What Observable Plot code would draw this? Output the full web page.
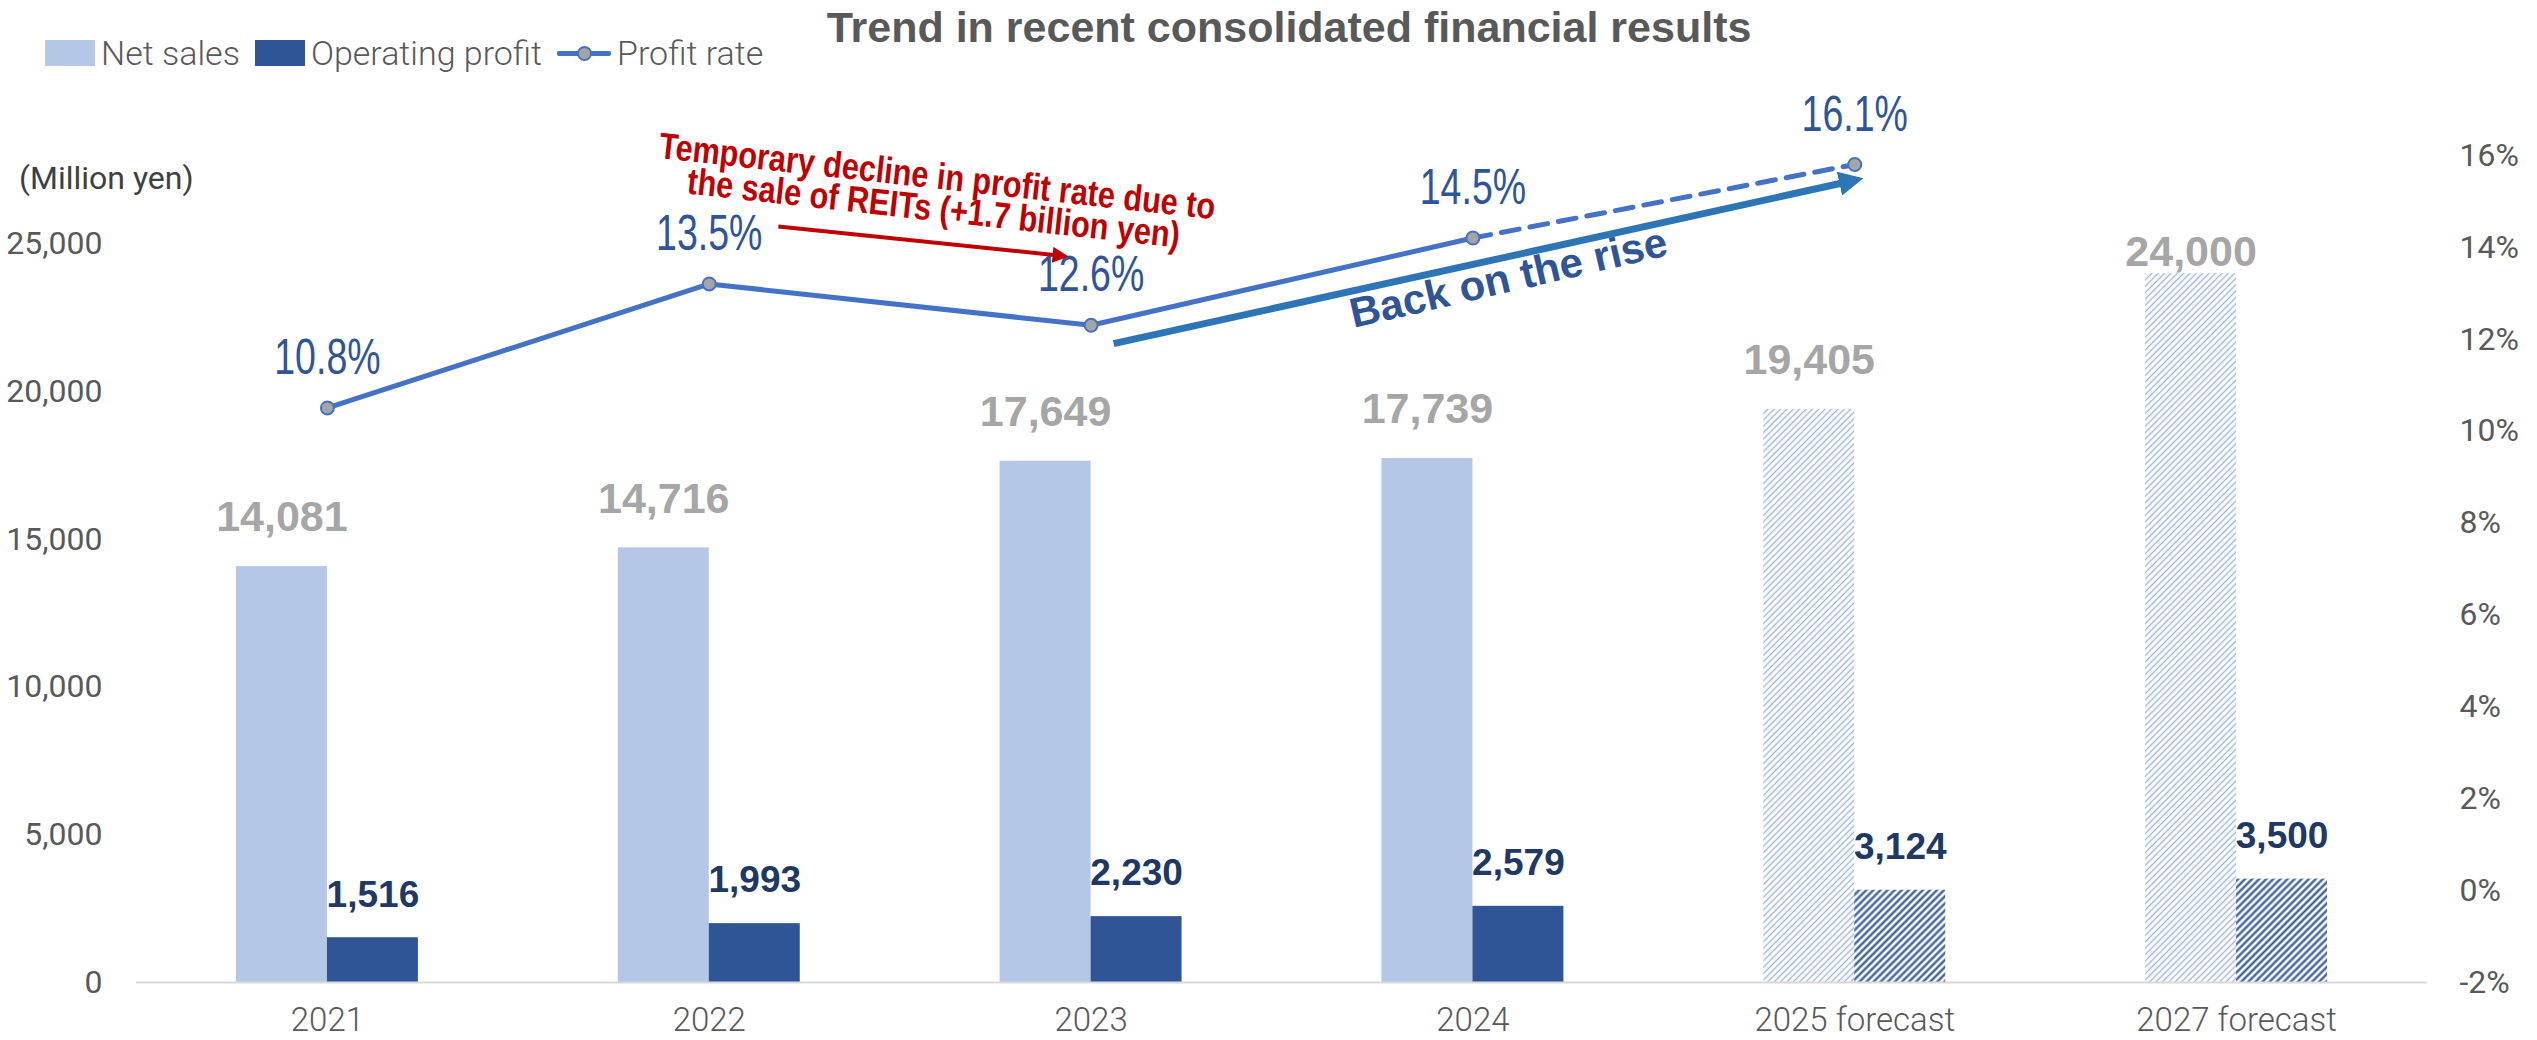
<!DOCTYPE html>
<html>
<head>
<meta charset="utf-8">
<script src="https://cdn.jsdelivr.net/npm/d3@7"></script>
<script src="https://cdn.jsdelivr.net/npm/@observablehq/plot@0.6"></script>
<style>
  body { margin: 0; background: #fff; }
  #wrap { position: relative; width: 2537px; height: 1040px; overflow: hidden; font-family: Roboto, sans-serif; }
  #title { position: absolute; top: 0; left: 1289px; transform: translateX(-50%); white-space: nowrap;
           font-family: "Liberation Sans", Arial, sans-serif; font-weight: bold; font-size: 43px; line-height: 54px; color: #595959; }
  #legend { position: absolute; top: 33px; left: 45px; height: 40px; display: flex; align-items: center; gap: 15px;
            font-family: Roboto, sans-serif; font-weight: 300; font-size: 34px; color: #595959; white-space: nowrap; }
  .item { display: flex; align-items: center; gap: 6px; }
  .sw { width: 50px; height: 26px; display: inline-block; }
  .ln { position: relative; width: 54px; height: 26px; display: inline-block; }
  .ln::before { content: ""; position: absolute; left: 0; right: 0; top: 11px; height: 5px; background: #4472c4; border-radius: 2px; }
  .ln::after { content: ""; position: absolute; left: 20px; top: 6px; width: 11px; height: 11px; border-radius: 50%;
               background: #a5a5a5; border: 2px solid #4472c4; }
  #unit { position: absolute; left: 19px; top: 158px; font-family: Roboto, sans-serif; font-size: 32px; line-height: 40px; color: #404040; white-space: nowrap; }
  #chart { position: absolute; left: 0; top: 80px; }
</style>
</head>
<body>
<div id="wrap">
  <div id="title">Trend in recent consolidated financial results</div>
  <div id="legend">
    <span class="item"><span class="sw" style="background:#b4c7e7"></span>Net sales</span>
    <span class="item"><span class="sw" style="background:#2f5597"></span>Operating profit</span>
    <span class="item"><span class="ln"></span>Profit rate</span>
  </div>
  <div id="chart"></div>
  <div id="unit">(Million yen)</div>
</div>
<script>
// ---- data ----
const years = ["2021", "2022", "2023", "2024", "2025 forecast", "2027 forecast"];
const netSales = [14081, 14716, 17649, 17739, 19405, 24000];
const operatingProfit = [1516, 1993, 2230, 2579, 3124, 3500];
const profitRate = [10.8, 13.5, 12.6, 14.5, 16.1, null];
const isForecast = [false, false, false, false, true, true];
const leftTicks = [0, 5000, 10000, 15000, 20000, 25000];
const rightTicks = [-2, 0, 2, 4, 6, 8, 10, 12, 14, 16];
const leftMax = 28000;
const rightMin = -1.706, rightMax = 16.296; // secondary axis extent as drawn in the reference

// annotations (data space: x = category index, p = percent on the secondary axis)
const redNote = [{x: 1.592, p: 15.45, text: "Temporary decline in profit rate due to\nthe sale of REITs (+1.7 billion yen)"}];
const redArrow = [{x1: 1.181, p1: 14.75, x2: 1.916, p2: 14.12}];
const blueNote = [{x: 3.093, p: 13.62, text: "Back on the rise"}];
const blueArrow = [{x1: 2.059, p1: 12.20, x2: 3.985, p2: 15.73}];

// ---- derived ----
const toY = p => (p - rightMin) / (rightMax - rightMin) * leftMax;
const fromY = v => v / leftMax * (rightMax - rightMin) + rightMin;
const rows = years.map((year, i) => ({i, year, net: netSales[i], op: operatingProfit[i], rate: profitRate[i], forecast: isForecast[i]}));
const actual = rows.filter(d => !d.forecast);
const forecast = rows.filter(d => d.forecast);
const lastActual = actual[actual.length - 1].i;
const rateRows = rows.filter(d => d.rate != null);
const solidRate = rateRows.filter(d => d.i <= lastActual);
const dashedRate = rateRows.filter(d => d.i >= lastActual);
const bw = 0.2383; // bar width in category units

const netColor = "#b4c7e7", opColor = "#2f5597", lineColor = "#4472c4";
const boldFont = "Liberation Sans, Arial, sans-serif";

const chart = Plot.plot({
  width: 2537,
  height: 960,
  marginTop: 75,
  marginBottom: 58,
  marginLeft: 136,
  marginRight: 110,
  style: {fontFamily: "Roboto, sans-serif", background: "white", overflow: "visible"},
  x: {domain: [-0.5, years.length - 0.5], axis: null},
  y: {domain: [0, leftMax], axis: null},
  marks: [
    Plot.axisY(leftTicks, {anchor: "left", tickSize: 0, tickPadding: 34, fontSize: 32, color: "#595959", label: null, tickFormat: d3.format(",")}),
    Plot.axisY(rightTicks.map(toY), {anchor: "right", tickSize: 0, tickPadding: 32, fontSize: 32, dy: -13.5, color: "#595959", label: null, tickFormat: v => `${Math.round(fromY(v))}%`}),
    Plot.axisX(rows.map(d => d.i), {anchor: "bottom", tickSize: 0, tickPadding: 25, fontSize: 33, fontWeight: 300, color: "#595959", label: null, tickFormat: i => years[i]}),
    // bars
    Plot.rectY(actual, {x1: d => d.i - bw, x2: d => d.i, y: "net", fill: netColor}),
    Plot.rectY(forecast, {x1: d => d.i - bw, x2: d => d.i, y: "net", fill: "url(#hatchLight)"}),
    Plot.rectY(actual, {x1: d => d.i, x2: d => d.i + bw, y: "op", fill: opColor}),
    Plot.rectY(forecast, {x1: d => d.i, x2: d => d.i + bw, y: "op", fill: "url(#hatchDark)"}),
    Plot.ruleY([0], {stroke: "#d9d9d9", strokeWidth: 2}),
    // bar labels
    Plot.text(rows.filter(d => d.net < 22000), {x: d => d.i - bw / 2, y: "net", text: d => d3.format(",")(d.net), dy: -49,
      fill: "#a6a6a6", fontSize: 43, fontWeight: "bold", fontFamily: boldFont}),
    Plot.text(rows.filter(d => d.net >= 22000), {x: d => d.i - bw / 2, y: "net", text: d => d3.format(",")(d.net), dy: -21,
      fill: "#a6a6a6", fontSize: 43, fontWeight: "bold", fontFamily: boldFont}),
    Plot.text(rows, {x: d => d.i + bw / 2, y: "op", text: d => d3.format(",")(d.op), dy: -43,
      fill: "#203864", fontSize: 37, fontWeight: "bold", fontFamily: boldFont}),
    // profit rate line
    Plot.line(solidRate, {x: "i", y: d => toY(d.rate), stroke: lineColor, strokeWidth: 5}),
    Plot.line(dashedRate, {x: "i", y: d => toY(d.rate), stroke: lineColor, strokeWidth: 5, strokeDasharray: "18 11"}),
    Plot.dot(rateRows, {x: "i", y: d => toY(d.rate), r: 6.5, fill: "#a5a5a5", stroke: lineColor, strokeWidth: 2}),
    Plot.text(rateRows, {x: "i", y: d => toY(d.rate), text: d => `${d.rate.toFixed(1)}%`, dy: -50,
      fill: "#2f5597", fontSize: 50, fontFamily: "Liberation Sans, sans-serif", ariaDescription: "narrow75"}),
    // annotations
    Plot.link(redArrow, {x1: "x1", y1: d => toY(d.p1), x2: "x2", y2: d => toY(d.p2), stroke: "#c00000", strokeWidth: 4, ariaDescription: "red-arrow"}),
    Plot.text(redNote, {x: "x", y: d => toY(d.p), text: "text", rotate: 6.3, lineHeight: 0.87,
      fill: "#c00000", fontSize: 37, fontWeight: "bold", fontFamily: boldFont, ariaDescription: "narrow83"}),
    Plot.link(blueArrow, {x1: "x1", y1: d => toY(d.p1), x2: "x2", y2: d => toY(d.p2), stroke: "#2e75b6", strokeWidth: 7, ariaDescription: "blue-arrow"}),
    Plot.text(blueNote, {x: "x", y: d => toY(d.p), text: "text", rotate: -13,
      fill: "#2f5597", fontSize: 42, fontWeight: "bold", fontFamily: boldFont})
  ]
});

// patterns, arrowheads and condensed text
const svg = d3.select(chart);
const defs = svg.insert("defs", ":first-child");
function hatch(id, color, size, width) {
  const p = defs.append("pattern").attr("id", id).attr("patternUnits", "userSpaceOnUse")
    .attr("width", size).attr("height", size).attr("patternTransform", "rotate(45)");
  p.append("rect").attr("width", size).attr("height", size).attr("fill", "white");
  p.append("line").attr("x1", size / 2).attr("y1", 0).attr("x2", size / 2).attr("y2", size)
    .attr("stroke", color).attr("stroke-width", width);
}
hatch("hatchLight", "#9fb6e2", 4.5, 1.4);
hatch("hatchDark", "#2f5597", 5, 2.2);
function head(id, color, size) {
  const m = defs.append("marker").attr("id", id).attr("viewBox", "0 0 10 10").attr("refX", 4).attr("refY", 5)
    .attr("markerWidth", size).attr("markerHeight", size).attr("orient", "auto");
  m.append("path").attr("d", "M0,0L10,5L0,10Z").attr("fill", color);
}
head("headRed", "#c00000", 4);
head("headBlue", "#2e75b6", 3.5);
svg.selectAll('[aria-description="red-arrow"] path').attr("marker-end", "url(#headRed)");
svg.selectAll('[aria-description="blue-arrow"] path').attr("marker-end", "url(#headBlue)");
function condense(selector, k) {
  svg.selectAll(`[aria-description="${selector}"] text`).each(function () {
    const t = this.getAttribute("transform");
    if (t) {
      this.setAttribute("transform", `${t} scale(${k},1)`);
    } else {
      const x = +this.getAttribute("x") || 0, y = +this.getAttribute("y") || 0;
      this.removeAttribute("x"); this.removeAttribute("y");
      this.setAttribute("transform", `translate(${x},${y}) scale(${k},1)`);
    }
  });
}
condense("narrow75", 0.75);
condense("narrow83", 0.83);

document.getElementById("chart").appendChild(chart);
</script>
</body>
</html>
